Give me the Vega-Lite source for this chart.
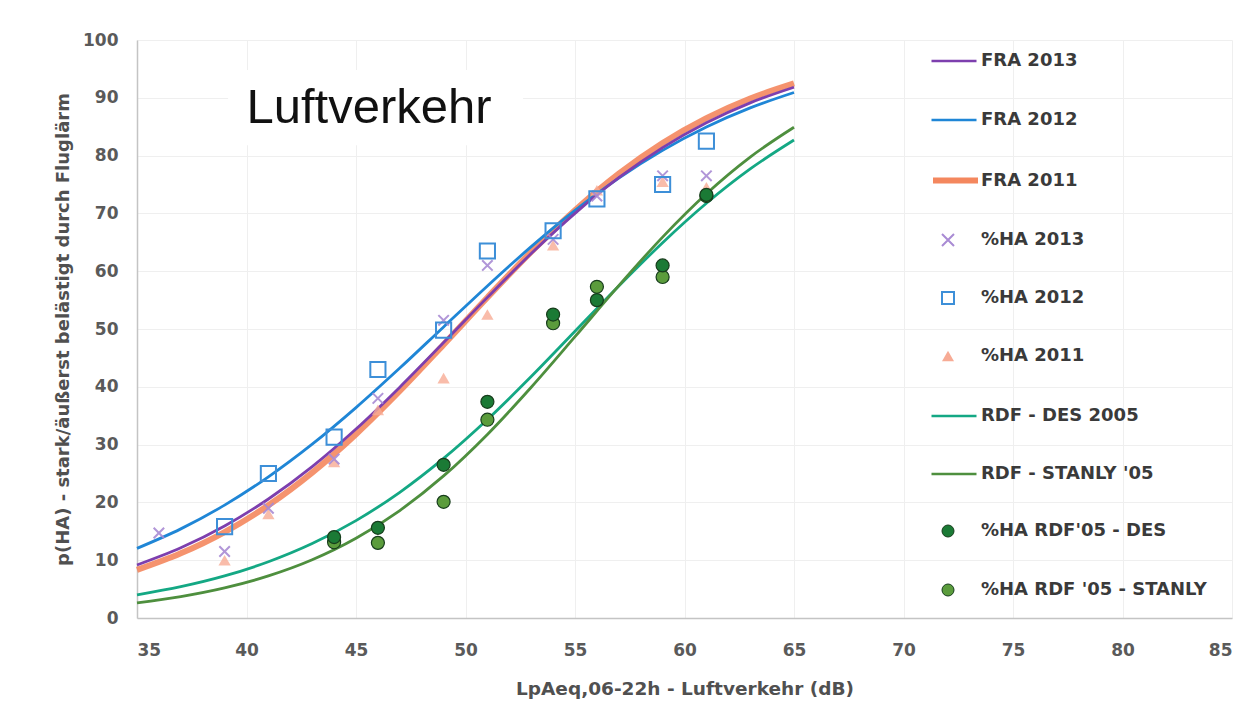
{
  "$schema": "https://vega.github.io/schema/vega-lite/v6.json",
  "width": 1095,
  "height": 578,
  "autosize": {"type": "none"},
  "padding": {"left": 137, "top": 40, "right": 26, "bottom": 106},
  "background": "white",
  "config": {
    "view": {"stroke": null},
    "font": "DejaVu Sans",
    "axis": {
      "grid": true,
      "gridColor": "#efefef",
      "gridWidth": 1,
      "domainColor": "#c4c4c4",
      "domainWidth": 1.5,
      "ticks": false,
      "labelFont": "DejaVu Sans",
      "labelFontSize": 17,
      "labelFontWeight": "bold",
      "labelColor": "#5a5a5a",
      "titleFont": "DejaVu Sans",
      "titleFontSize": 18,
      "titleFontWeight": "bold",
      "titleColor": "#505050"
    },
    "legend": {
      "orient": "none",
      "direction": "vertical",
      "padding": 0,
      "labelFont": "DejaVu Sans",
      "labelFontSize": 18,
      "labelFontWeight": "bold",
      "labelColor": "#3a3a3a",
      "labelLimit": 400,
      "symbolOpacity": 1
    }
  },
  "resolve": {"scale": {"color": "independent"}, "legend": {"color": "independent"}},
  "encoding": {
    "x": {
      "field": "x",
      "type": "quantitative",
      "scale": {"domain": [35, 85], "nice": false, "zero": false},
      "axis": {
        "title": "LpAeq,06-22h - Luftverkehr (dB)",
        "values": [35, 40, 45, 50, 55, 60, 65, 70, 75, 80, 85],
        "labelPadding": 24,
        "titlePadding": 21,
        "titleFontSize": 18.5
      }
    },
    "y": {
      "field": "y",
      "type": "quantitative",
      "scale": {"domain": [0, 100], "nice": false},
      "axis": {
        "title": "p(HA) - stark/äußerst belästigt durch Fluglärm",
        "values": [0, 10, 20, 30, 40, 50, 60, 70, 80, 90, 100],
        "labelPadding": 19,
        "titlePadding": 10
      }
    }
  },
  "layer": [
    {
      "data": {"values": [{"x": 39.16, "x2": 52.63, "y": 94.8, "y2": 81.8}]},
      "mark": {"type": "rect", "color": "white"},
      "encoding": {"x2": {"field": "x2"}, "y2": {"field": "y2"}}
    },
    {
      "data": {"values": [{"x": 40.0, "y": 88.2, "label": "Luftverkehr"}]},
      "mark": {"type": "text", "font": "Liberation Sans", "fontSize": 49, "align": "left", "baseline": "middle", "color": "#111111"},
      "encoding": {"text": {"field": "label"}}
    },
    {
      "data": {"values": [
        {"series": "FRA 2011", "x": 35, "y": 8.32}, {"series": "FRA 2011", "x": 37, "y": 11.19}, {"series": "FRA 2011", "x": 39, "y": 14.87}, {"series": "FRA 2011", "x": 41, "y": 19.5},
        {"series": "FRA 2011", "x": 43, "y": 25.16}, {"series": "FRA 2011", "x": 45, "y": 31.8}, {"series": "FRA 2011", "x": 47, "y": 39.28}, {"series": "FRA 2011", "x": 49, "y": 47.3},
        {"series": "FRA 2011", "x": 51, "y": 55.46}, {"series": "FRA 2011", "x": 53, "y": 63.34}, {"series": "FRA 2011", "x": 55, "y": 70.56}, {"series": "FRA 2011", "x": 57, "y": 76.88},
        {"series": "FRA 2011", "x": 59, "y": 82.18}, {"series": "FRA 2011", "x": 61, "y": 86.48}, {"series": "FRA 2011", "x": 63, "y": 89.88}, {"series": "FRA 2011", "x": 65, "y": 92.49}
      ]},
      "mark": {"type": "line", "strokeWidth": 6, "interpolate": "monotone", "opacity": 0.9},
      "encoding": {
        "color": {"field": "series", "type": "nominal", "scale": {"domain": ["FRA 2011"], "range": ["#f4875e"]},
          "legend": {"title": null, "legendX": 793, "legendY": 115, "symbolType": "stroke", "symbolSize": 2025, "symbolStrokeWidth": 6, "labelOffset": 0}}
      }
    },
    {
      "data": {"values": [
        {"series": "FRA 2012", "x": 35, "y": 12.05}, {"series": "FRA 2012", "x": 37, "y": 15.42}, {"series": "FRA 2012", "x": 39, "y": 19.53}, {"series": "FRA 2012", "x": 41, "y": 24.42},
        {"series": "FRA 2012", "x": 43, "y": 30.07}, {"series": "FRA 2012", "x": 45, "y": 36.4}, {"series": "FRA 2012", "x": 47, "y": 43.24}, {"series": "FRA 2012", "x": 49, "y": 50.36},
        {"series": "FRA 2012", "x": 51, "y": 57.44}, {"series": "FRA 2012", "x": 53, "y": 64.25}, {"series": "FRA 2012", "x": 55, "y": 70.52}, {"series": "FRA 2012", "x": 57, "y": 76.1},
        {"series": "FRA 2012", "x": 59, "y": 80.91}, {"series": "FRA 2012", "x": 61, "y": 84.94}, {"series": "FRA 2012", "x": 63, "y": 88.25}, {"series": "FRA 2012", "x": 65, "y": 90.91}
      ]},
      "mark": {"type": "line", "strokeWidth": 2.8, "interpolate": "monotone"},
      "encoding": {
        "color": {"field": "series", "type": "nominal", "scale": {"domain": ["FRA 2012"], "range": ["#1f86d6"]},
          "legend": {"title": null, "legendX": 793, "legendY": 56, "symbolType": "stroke", "symbolSize": 2025, "symbolStrokeWidth": 2.5, "labelOffset": 3}}
      }
    },
    {
      "data": {"values": [
        {"series": "FRA 2013", "x": 35, "y": 9.18}, {"series": "FRA 2013", "x": 37, "y": 12.15}, {"series": "FRA 2013", "x": 39, "y": 15.92}, {"series": "FRA 2013", "x": 41, "y": 20.59},
        {"series": "FRA 2013", "x": 43, "y": 26.19}, {"series": "FRA 2013", "x": 45, "y": 32.69}, {"series": "FRA 2013", "x": 47, "y": 39.94}, {"series": "FRA 2013", "x": 49, "y": 47.65},
        {"series": "FRA 2013", "x": 51, "y": 55.47}, {"series": "FRA 2013", "x": 53, "y": 63.05}, {"series": "FRA 2013", "x": 55, "y": 70.01}, {"series": "FRA 2013", "x": 57, "y": 76.17},
        {"series": "FRA 2013", "x": 59, "y": 81.39}, {"series": "FRA 2013", "x": 61, "y": 85.69}, {"series": "FRA 2013", "x": 63, "y": 89.13}, {"series": "FRA 2013", "x": 65, "y": 91.82}
      ]},
      "mark": {"type": "line", "strokeWidth": 2.8, "interpolate": "monotone"},
      "encoding": {
        "color": {"field": "series", "type": "nominal", "scale": {"domain": ["FRA 2013"], "range": ["#7d3fae"]},
          "legend": {"title": null, "legendX": 793, "legendY": -3, "symbolType": "stroke", "symbolSize": 2025, "symbolStrokeWidth": 2.5, "labelOffset": 3}}
      }
    },
    {
      "data": {"values": [
        {"series": "RDF - DES 2005", "x": 35, "y": 4.01}, {"series": "RDF - DES 2005", "x": 37, "y": 5.42}, {"series": "RDF - DES 2005", "x": 39, "y": 7.28}, {"series": "RDF - DES 2005", "x": 41, "y": 9.73},
        {"series": "RDF - DES 2005", "x": 43, "y": 12.88}, {"series": "RDF - DES 2005", "x": 45, "y": 16.85}, {"series": "RDF - DES 2005", "x": 47, "y": 21.75}, {"series": "RDF - DES 2005", "x": 49, "y": 27.61},
        {"series": "RDF - DES 2005", "x": 51, "y": 34.34}, {"series": "RDF - DES 2005", "x": 53, "y": 41.77}, {"series": "RDF - DES 2005", "x": 55, "y": 49.61}, {"series": "RDF - DES 2005", "x": 57, "y": 57.44},
        {"series": "RDF - DES 2005", "x": 59, "y": 64.93}, {"series": "RDF - DES 2005", "x": 61, "y": 71.75}, {"series": "RDF - DES 2005", "x": 63, "y": 77.69}, {"series": "RDF - DES 2005", "x": 65, "y": 82.69}
      ]},
      "mark": {"type": "line", "strokeWidth": 2.8, "interpolate": "monotone"},
      "encoding": {
        "color": {"field": "series", "type": "nominal", "scale": {"domain": ["RDF - DES 2005"], "range": ["#14a884"]},
          "legend": {"title": null, "legendX": 793, "legendY": 352, "symbolType": "stroke", "symbolSize": 2025, "symbolStrokeWidth": 2.5, "labelOffset": 3}}
      }
    },
    {
      "data": {"values": [
        {"series": "RDF - STANLY '05", "x": 35, "y": 2.63}, {"series": "RDF - STANLY '05", "x": 37, "y": 3.71}, {"series": "RDF - STANLY '05", "x": 39, "y": 5.21}, {"series": "RDF - STANLY '05", "x": 41, "y": 7.28},
        {"series": "RDF - STANLY '05", "x": 43, "y": 10.07}, {"series": "RDF - STANLY '05", "x": 45, "y": 13.79}, {"series": "RDF - STANLY '05", "x": 47, "y": 18.59}, {"series": "RDF - STANLY '05", "x": 49, "y": 24.58},
        {"series": "RDF - STANLY '05", "x": 51, "y": 31.76}, {"series": "RDF - STANLY '05", "x": 53, "y": 39.92}, {"series": "RDF - STANLY '05", "x": 55, "y": 48.67}, {"series": "RDF - STANLY '05", "x": 57, "y": 57.51},
        {"series": "RDF - STANLY '05", "x": 59, "y": 65.9}, {"series": "RDF - STANLY '05", "x": 61, "y": 73.39}, {"series": "RDF - STANLY '05", "x": 63, "y": 79.74}, {"series": "RDF - STANLY '05", "x": 65, "y": 84.9}
      ]},
      "mark": {"type": "line", "strokeWidth": 2.8, "interpolate": "monotone"},
      "encoding": {
        "color": {"field": "series", "type": "nominal", "scale": {"domain": ["RDF - STANLY '05"], "range": ["#4e8f3e"]},
          "legend": {"title": null, "legendX": 793, "legendY": 410, "symbolType": "stroke", "symbolSize": 2025, "symbolStrokeWidth": 2.5, "labelOffset": 3}}
      }
    },
    {
      "data": {"values": [
        {"series": "%HA 2011", "x": 39, "y": 10}, {"series": "%HA 2011", "x": 41, "y": 18}, {"series": "%HA 2011", "x": 44, "y": 27}, {"series": "%HA 2011", "x": 46, "y": 36},
        {"series": "%HA 2011", "x": 49, "y": 41.5}, {"series": "%HA 2011", "x": 51, "y": 52.5}, {"series": "%HA 2011", "x": 54, "y": 64.5}, {"series": "%HA 2011", "x": 56, "y": 74},
        {"series": "%HA 2011", "x": 59, "y": 75.5}, {"series": "%HA 2011", "x": 61, "y": 74.5}
      ]},
      "mark": {"type": "point", "shape": "triangle-up", "filled": true, "size": 150, "opacity": 0.8},
      "encoding": {
        "color": {"field": "series", "type": "nominal", "scale": {"domain": ["%HA 2011"], "range": ["#f7ab95"]},
          "legend": {"title": null, "legendX": 802, "legendY": 307, "symbolType": "triangle-up", "symbolSize": 144, "labelOffset": 24}}
      }
    },
    {
      "data": {"values": [
        {"series": "%HA 2013", "x": 36, "y": 14.7}, {"series": "%HA 2013", "x": 39, "y": 11.5}, {"series": "%HA 2013", "x": 41, "y": 19}, {"series": "%HA 2013", "x": 44, "y": 27.5},
        {"series": "%HA 2013", "x": 46, "y": 38}, {"series": "%HA 2013", "x": 49, "y": 51.5}, {"series": "%HA 2013", "x": 51, "y": 61}, {"series": "%HA 2013", "x": 54, "y": 65.5},
        {"series": "%HA 2013", "x": 56, "y": 73}, {"series": "%HA 2013", "x": 59, "y": 76.5}, {"series": "%HA 2013", "x": 61, "y": 76.5}
      ]},
      "mark": {"type": "point", "shape": "M-1,-1L1,1M1,-1L-1,1", "filled": false, "size": 110, "strokeWidth": 2, "opacity": 0.9},
      "encoding": {
        "color": {"field": "series", "type": "nominal", "scale": {"domain": ["%HA 2013"], "range": ["#a98bd4"]},
          "legend": {"title": null, "legendX": 802, "legendY": 191, "symbolType": "M-1,-1L1,1M1,-1L-1,1", "symbolSize": 144, "symbolStrokeWidth": 2, "labelOffset": 24}}
      }
    },
    {
      "data": {"values": [
        {"series": "%HA 2012", "x": 39, "y": 15.8}, {"series": "%HA 2012", "x": 41, "y": 25}, {"series": "%HA 2012", "x": 44, "y": 31.3}, {"series": "%HA 2012", "x": 46, "y": 43},
        {"series": "%HA 2012", "x": 49, "y": 49.8}, {"series": "%HA 2012", "x": 51, "y": 63.5}, {"series": "%HA 2012", "x": 54, "y": 67}, {"series": "%HA 2012", "x": 56, "y": 72.5},
        {"series": "%HA 2012", "x": 59, "y": 75}, {"series": "%HA 2012", "x": 61, "y": 82.5}
      ]},
      "mark": {"type": "point", "shape": "square", "filled": false, "size": 230, "strokeWidth": 2, "opacity": 1},
      "encoding": {
        "color": {"field": "series", "type": "nominal", "scale": {"domain": ["%HA 2012"], "range": ["#3d8fd8"]},
          "legend": {"title": null, "legendX": 802, "legendY": 249, "symbolType": "square", "symbolSize": 144, "symbolStrokeWidth": 2, "labelOffset": 24}}
      }
    },
    {
      "data": {"values": [
        {"series": "%HA RDF '05 - STANLY", "x": 44, "y": 13.1}, {"series": "%HA RDF '05 - STANLY", "x": 46, "y": 13}, {"series": "%HA RDF '05 - STANLY", "x": 49, "y": 20.1}, {"series": "%HA RDF '05 - STANLY", "x": 51, "y": 34.3},
        {"series": "%HA RDF '05 - STANLY", "x": 54, "y": 51}, {"series": "%HA RDF '05 - STANLY", "x": 56, "y": 57.3}, {"series": "%HA RDF '05 - STANLY", "x": 59, "y": 59}, {"series": "%HA RDF '05 - STANLY", "x": 61, "y": 73}
      ]},
      "mark": {"type": "point", "shape": "circle", "filled": true, "size": 170, "stroke": "#173d1c", "strokeWidth": 1.2, "opacity": 1},
      "encoding": {
        "color": {"field": "series", "type": "nominal", "scale": {"domain": ["%HA RDF '05 - STANLY"], "range": ["#5b9c3c"]},
          "legend": {"title": null, "legendX": 802, "legendY": 541, "symbolType": "circle", "symbolSize": 144, "symbolStrokeColor": "#173d1c", "symbolStrokeWidth": 1, "labelOffset": 24}}
      }
    },
    {
      "data": {"values": [
        {"series": "%HA RDF'05 - DES", "x": 44, "y": 14}, {"series": "%HA RDF'05 - DES", "x": 46, "y": 15.6}, {"series": "%HA RDF'05 - DES", "x": 49, "y": 26.5}, {"series": "%HA RDF'05 - DES", "x": 51, "y": 37.4},
        {"series": "%HA RDF'05 - DES", "x": 54, "y": 52.5}, {"series": "%HA RDF'05 - DES", "x": 56, "y": 55}, {"series": "%HA RDF'05 - DES", "x": 59, "y": 61}, {"series": "%HA RDF'05 - DES", "x": 61, "y": 73.2}
      ]},
      "mark": {"type": "point", "shape": "circle", "filled": true, "size": 170, "stroke": "#173d1c", "strokeWidth": 1.2, "opacity": 1},
      "encoding": {
        "color": {"field": "series", "type": "nominal", "scale": {"domain": ["%HA RDF'05 - DES"], "range": ["#1b7a35"]},
          "legend": {"title": null, "legendX": 802, "legendY": 482, "symbolType": "circle", "symbolSize": 144, "symbolStrokeColor": "#173d1c", "symbolStrokeWidth": 1, "labelOffset": 24}}
      }
    }
  ]
}
